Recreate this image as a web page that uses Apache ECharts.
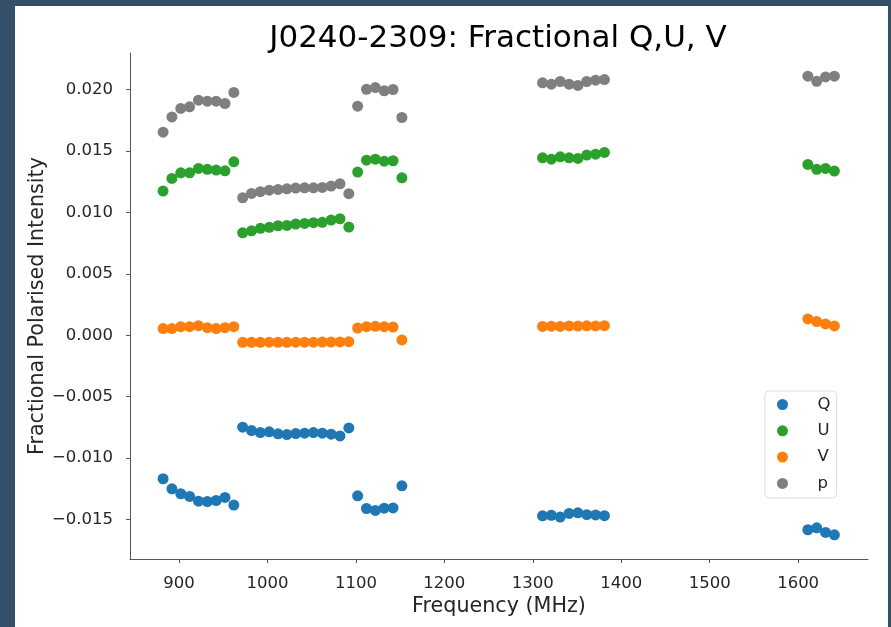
<!DOCTYPE html>
<html>
<head>
<meta charset="utf-8">
<title>J0240-2309: Fractional Q,U, V</title>
<script src="https://cdn.jsdelivr.net/npm/echarts@6/dist/echarts.min.js"></script>
<style>
  body { margin: 0; background: #345068; }
  #paper { position: absolute; left: 15px; top: 6px; right: 3px; bottom: 0; background: #fff; }
  #main { position: absolute; left: 0; top: 0; width: 891px; height: 627px; }
</style>
</head>
<body>
<div id="paper"></div>
<div id="main"></div>
<script>
// frequencies (MHz)
var freqs = [882, 892, 902, 912, 922, 932, 942, 952, 962,
  972, 982, 992, 1002, 1012, 1022, 1032, 1042, 1052, 1062, 1072, 1082, 1092,
  1102, 1112, 1122, 1132, 1142, 1152,
  1311, 1321, 1331, 1341, 1351, 1361, 1371, 1381,
  1611, 1621, 1631, 1641]

var qVals = [-0.01168, -0.0125, -0.0129, -0.01312, -0.0135, -0.01353, -0.01345, -0.0132, -0.01382,
  -0.00748, -0.00776, -0.00792, -0.00786, -0.00802, -0.00808, -0.0080, -0.00797, -0.00792, -0.00797, -0.00805, -0.00819, -0.00754,
  -0.01307, -0.0141, -0.01426, -0.01407, -0.01405, -0.01225,
  -0.0147, -0.01465, -0.0148, -0.0145, -0.01445, -0.0146, -0.01462, -0.01468,
  -0.01583, -0.01567, -0.01605, -0.01624]

var uVals = [0.01173, 0.01276, 0.01322, 0.01322, 0.01358, 0.0135, 0.01344, 0.01338, 0.01411,
  0.00834, 0.0085, 0.0087, 0.00878, 0.00891, 0.00894, 0.00905, 0.0091, 0.00916, 0.00919, 0.00937, 0.00948, 0.0088,
  0.01328, 0.01425, 0.01433, 0.01417, 0.0142, 0.01281,
  0.01444, 0.01433, 0.01452, 0.01444, 0.01439, 0.01466, 0.01474, 0.01488,
  0.0139, 0.0135, 0.01358, 0.01336]

var vVals = [0.00054, 0.00054, 0.0007, 0.0007, 0.00078, 0.00062, 0.00054, 0.00062, 0.0007,
  -0.00058, -0.00057, -0.00057, -0.00056, -0.00057, -0.00057, -0.00056, -0.00056, -0.00056, -0.00055, -0.00055, -0.00054, -0.00052,
  0.00059, 0.0007, 0.00073, 0.0007, 0.00067, -0.00038,
  0.00072, 0.00074, 0.00072, 0.00076, 0.00075, 0.00077, 0.00076, 0.00078,
  0.00133, 0.00111, 0.00092, 0.00076]

var pVals = [0.01653, 0.01777, 0.01846, 0.01859, 0.01913, 0.01905, 0.01905, 0.01886, 0.01976,
  0.01119, 0.01154, 0.01168, 0.01181, 0.01187, 0.01192, 0.01198, 0.012, 0.012, 0.01203, 0.01214, 0.01233, 0.01152,
  0.01864, 0.02002, 0.02016, 0.01989, 0.0200, 0.01772,
  0.02054, 0.02043, 0.02065, 0.02043, 0.02033, 0.02065, 0.02076, 0.02081,
  0.02108, 0.02067, 0.02102, 0.02108]

var xTicks = [900, 1000, 1100, 1200, 1300, 1400, 1500, 1600]
var yTicks = [-0.015, -0.010, -0.005, 0.000, 0.005, 0.010, 0.015, 0.020]

var font = 'DejaVu Sans'
var axisColor = '#555'

function pairs (vals) {
  return freqs.map(function (f, i) { return [f, vals[i]] })
}

function scatter (name, color, vals) {
  return {
    name: name,
    type: 'scatter',
    symbol: 'circle',
    symbolSize: 11,
    itemStyle: { color: color, opacity: 1 },
    data: pairs(vals)
  }
}

var myChart = echarts.init(document.getElementById('main'))

myChart.setOption({
  animation: false,
  title: {
    text: 'J0240-2309: Fractional Q,U, V',
    left: 498,
    textAlign: 'center',
    top: 23,
    padding: 0,
    textStyle: { fontFamily: font, fontSize: 31, fontWeight: 'normal', color: '#000' }
  },
  legend: {
    orient: 'vertical',
    left: 765,
    top: 391,
    padding: [5, 6, 6, 12],
    itemWidth: 22,
    itemHeight: 11,
    itemGap: 9.3,
    icon: 'circle',
    backgroundColor: 'rgba(255,255,255,0.8)',
    borderColor: '#ddd',
    borderWidth: 1,
    borderRadius: 4,
    textStyle: { fontFamily: font, fontSize: 16.5, color: '#262626', padding: [0, 0, 0, 19] },
    data: ['Q', 'U', 'V', 'p']
  },
  grid: { left: 130, top: 53, width: 738, height: 506, outerBoundsMode: 'none' },
  xAxis: {
    type: 'value',
    min: 844.6,
    max: 1679,
    name: 'Frequency (MHz)',
    nameLocation: 'middle',
    nameGap: 37,
    nameMoveOverlap: false,
    nameTextStyle: { fontFamily: font, fontSize: 20.7, color: '#262626' },
    splitLine: { show: false },
    axisLine: { show: true, onZero: false, lineStyle: { color: axisColor, width: 1 } },
    axisTick: { show: true, length: 4, lineStyle: { color: axisColor }, customValues: xTicks },
    axisLabel: {
      margin: 16,
      fontFamily: font,
      fontSize: 16.5,
      color: '#262626',
      customValues: xTicks,
      formatter: function (v) { return String(v) }
    }
  },
  yAxis: {
    type: 'value',
    min: -0.01821,
    max: 0.02297,
    name: 'Fractional Polarised Intensity',
    nameLocation: 'middle',
    nameRotate: 90,
    nameGap: 82,
    nameMoveOverlap: false,
    nameTextStyle: { fontFamily: font, fontSize: 20.7, color: '#262626' },
    splitLine: { show: false },
    axisLine: { show: true, onZero: false, lineStyle: { color: axisColor, width: 1 } },
    axisTick: { show: true, length: 4, lineStyle: { color: axisColor }, customValues: yTicks },
    axisLabel: {
      margin: 17,
      fontFamily: font,
      fontSize: 16.5,
      color: '#262626',
      customValues: yTicks,
      formatter: function (v) { return v.toFixed(3).replace('-', '\u2212') }
    }
  },
  series: [
    scatter('Q', '#1f77b4', qVals),
    scatter('U', '#2ca02c', uVals),
    scatter('V', '#ff7f0e', vVals),
    scatter('p', '#7f7f7f', pVals)
  ]
})

window.onresize = function () {
  myChart.resize()
}
</script>
</body>
</html>
